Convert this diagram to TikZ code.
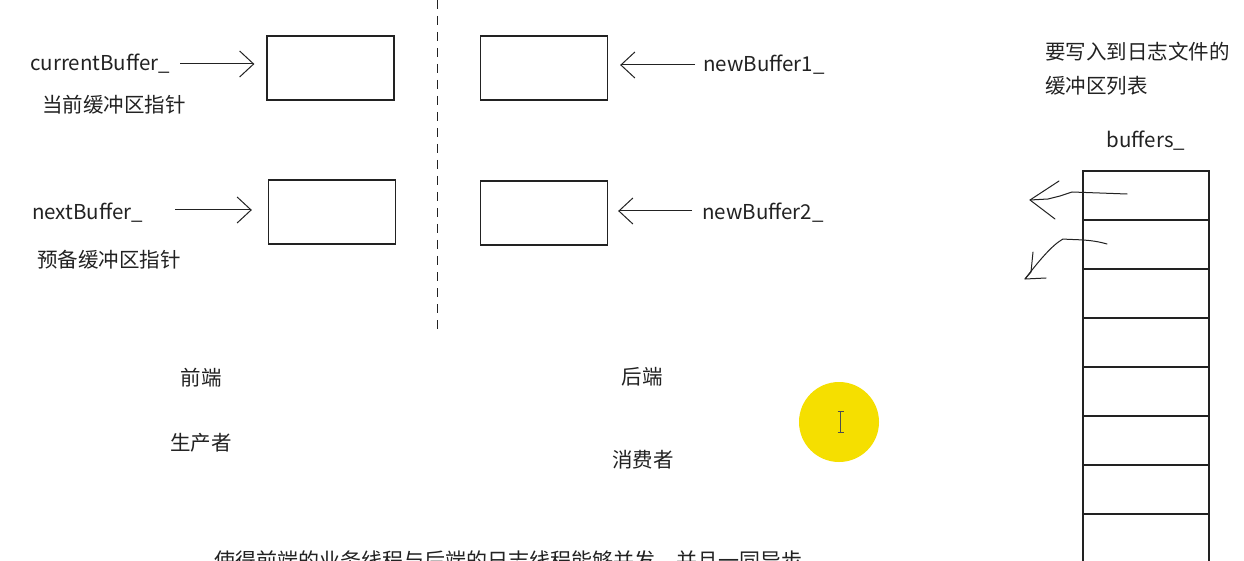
\documentclass[tikz,border=0pt]{standalone}
\usepackage{fontspec}
\setmainfont{Noto Sans CJK SC}
\usetikzlibrary{arrows.meta}
\definecolor{ink}{HTML}{222222}
\definecolor{ylw}{HTML}{F5DF00}
\tikzset{
  buf/.style={draw=ink, line width=1.3pt, minimum width=127pt, minimum height=64pt, inner sep=0pt},
  cell/.style={draw=ink, line width=1.3pt, minimum width=126pt, minimum height=49pt, inner sep=0pt},
  lbl/.style={text=ink, font=\fontsize{20.5}{23}\selectfont, inner sep=0pt},
  cjk/.style={text=ink, font=\fontsize{20.5}{24}\selectfont, inner sep=0pt},
  ptr/.style={draw=ink, line width=1pt, -{Straight Barb[length=14pt,width=26pt,line width=1pt]}},
  hand/.style={draw=ink, line width=1pt, line cap=round, line join=round},
}
\begin{document}
\begin{tikzpicture}[x=1pt,y=-1pt]
\useasboundingbox (0,0) rectangle (1244,561);
\clip (0,0) rectangle (1244,561);
\fill[white] (0,0) rectangle (1244,561);

% dashed divider
\draw[ink, line width=1pt, dash pattern=on 9pt off 7pt] (437,0) -- (437,335);

% buffers
\node[buf] (b1) at (330.5,68) {};
\node[buf] (b2) at (332,212) {};
\node[buf] (b3) at (544,68) {};
\node[buf] (b4) at (544,213) {};

% labels
\node[lbl, anchor=west] (cb) at (30,64) {currentBuffer\_};
\node[cjk, anchor=west] (cbt) at (42,105) {当前缓冲区指针};
\node[lbl, anchor=west] (nb) at (32,213) {nextBuffer\_};
\node[cjk, anchor=west] (nbt) at (37,260) {预备缓冲区指针};
\node[lbl, anchor=west] (n1) at (703,65) {newBuffer1\_};
\node[lbl, anchor=west] (n2) at (702,213) {newBuffer2\_};

% pointer arrows
\draw[ptr, shorten <=10pt, shorten >=12pt] (cb.east) -- (cb.east -| b1.west);
\draw[ptr, shorten <=32pt, shorten >=16pt] (nb.east |- 0,210) -- (b2.west |- 0,210);
\draw[ptr, shorten <=8pt, shorten >=12pt] (n1.west) -- (n1.west -| b3.east);
\draw[ptr, shorten <=10pt, shorten >=10pt] (n2.west |- 0,211) -- (b4.east |- 0,211);

% front / back labels
\node[cjk] (fe) at (201,378) {前端};
\node[cjk] (pr) at (201,443) {生产者};
\node[cjk] (be) at (642,377) {后端};
\node[cjk] (co) at (643,460) {消费者};

% right column
\node[cjk, anchor=west] (t1) at (1045,52) {要写入到日志文件的};
\node[cjk, anchor=west] (t2) at (1045,86) {缓冲区列表};
\node[lbl] (bl) at (1146,141) {buffers\_};

\foreach \i in {0,...,7} {
  \node[cell] (c\i) at (1146,{195.5+49*\i}) {};
}

% hand-drawn arrows
\coordinate (h1) at (1030,200);
\coordinate (h2) at (1025,279);
\draw[hand] (1127,194) -- (1072,192) -- (1060,196) -- (1048,199) -- (h1);
\draw[hand] (1059,181) -- (h1) -- (1055,219);
\draw[hand] (1107,244) .. controls (1090,239) and (1075,240) .. (1063,239)
  .. controls (1052,245) and (1038,262) .. (h2);
\draw[hand] (1033,252) -- (1031,272) -- (h2) -- (1046,278);

% highlight cursor
\fill[ylw] (839,422) circle (40);
\draw[ink!80, line width=1pt] (840.5,412) -- (840.5,432)
  (837.5,411.5) -- (843.5,411.5) (837.5,432.5) -- (843.5,432.5);

% bottom text (cut off at the lower edge, as in the reference)
\node[text=ink, font=\fontsize{21}{24}\selectfont, inner sep=0pt, anchor=north] (bt) at (508,551) {使得前端的业务线程与后端的日志线程能够并发，并且一同异步};
\end{tikzpicture}
\end{document}
